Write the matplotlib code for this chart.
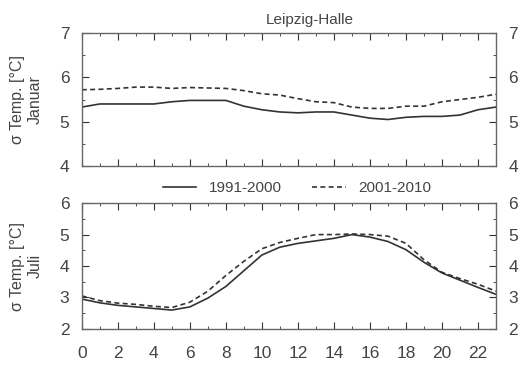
import numpy as np
import matplotlib.pyplot as plt
from matplotlib.ticker import MultipleLocator

plt.rcParams['font.family'] = ['Liberation Sans', 'DejaVu Sans']

hours = np.arange(24)
jan_1991_2000 = [5.33, 5.40, 5.40, 5.40, 5.40, 5.45, 5.48, 5.48, 5.48, 5.35, 5.27, 5.22,
                 5.20, 5.22, 5.22, 5.15, 5.08, 5.05, 5.10, 5.12, 5.12, 5.15, 5.27, 5.33]
jan_2001_2010 = [5.72, 5.73, 5.75, 5.78, 5.78, 5.75, 5.77, 5.76, 5.75, 5.70, 5.63, 5.60,
                 5.52, 5.45, 5.43, 5.33, 5.30, 5.30, 5.35, 5.35, 5.45, 5.50, 5.55, 5.62]
jul_1991_2000 = [2.95, 2.83, 2.75, 2.70, 2.65, 2.60, 2.70, 2.98, 3.35, 3.85, 4.35, 4.60,
                 4.72, 4.80, 4.88, 5.00, 4.92, 4.78, 4.52, 4.12, 3.78, 3.55, 3.32, 3.10]
jul_2001_2010 = [3.05, 2.90, 2.82, 2.78, 2.72, 2.68, 2.85, 3.20, 3.70, 4.15, 4.55, 4.75,
                 4.88, 5.00, 5.00, 5.02, 5.00, 4.95, 4.72, 4.20, 3.80, 3.60, 3.42, 3.20]

GRAY = "#333333"
TXT = "#444444"

fig = plt.figure(figsize=(5.21, 3.70), dpi=100)
ax1 = fig.add_axes([0.157, 0.551, 0.795, 0.360])
ax2 = fig.add_axes([0.157, 0.111, 0.795, 0.340])


def style(ax, ylim, label):
    ax.set_xlim(0, 23)
    ax.set_ylim(*ylim)
    ax.xaxis.set_major_locator(MultipleLocator(2))
    ax.xaxis.set_minor_locator(MultipleLocator(1))
    ax.yaxis.set_major_locator(MultipleLocator(1))
    ax.yaxis.set_minor_locator(MultipleLocator(0.5))
    ax.tick_params(which="both", direction="in", top=True, right=True,
                   labelright=True, color=GRAY, labelcolor=TXT, labelsize=12.5)
    ax.tick_params(which="major", length=5, pad=9)
    ax.tick_params(which="minor", length=2.5)
    for s in ax.spines.values():
        s.set_color("#666666")
        s.set_linewidth(1.0)
    ax.set_ylabel(label, color=TXT, fontsize=11.5, labelpad=12)


ax1.plot(hours, jan_1991_2000, "-", color=GRAY, lw=1.2, label="1991-2000")
ax1.plot(hours, jan_2001_2010, "--", color=GRAY, lw=1.2, dashes=(3, 2), label="2001-2010")
style(ax1, (4, 7), "σ Temp. [°C]\nJanuar")
ax1.tick_params(labelbottom=False)

ax2.plot(hours, jul_1991_2000, "-", color=GRAY, lw=1.2)
ax2.plot(hours, jul_2001_2010, "--", color=GRAY, lw=1.2, dashes=(3, 2))
style(ax2, (2, 6), "σ Temp. [°C]\nJuli")
ax2.tick_params(axis="x", pad=12)

ax1.text(0.55, 1.1, "Leipzig-Halle", transform=ax1.transAxes, ha="center",
         va="center", color=TXT, fontsize=11)

fig.legend(*ax1.get_legend_handles_labels(), loc="center", ncol=2,
           bbox_to_anchor=(0.57, 0.492), frameon=False, fontsize=11,
           labelcolor=TXT, handlelength=2.2, columnspacing=2.0)

fig.savefig("out.png", dpi=100)
